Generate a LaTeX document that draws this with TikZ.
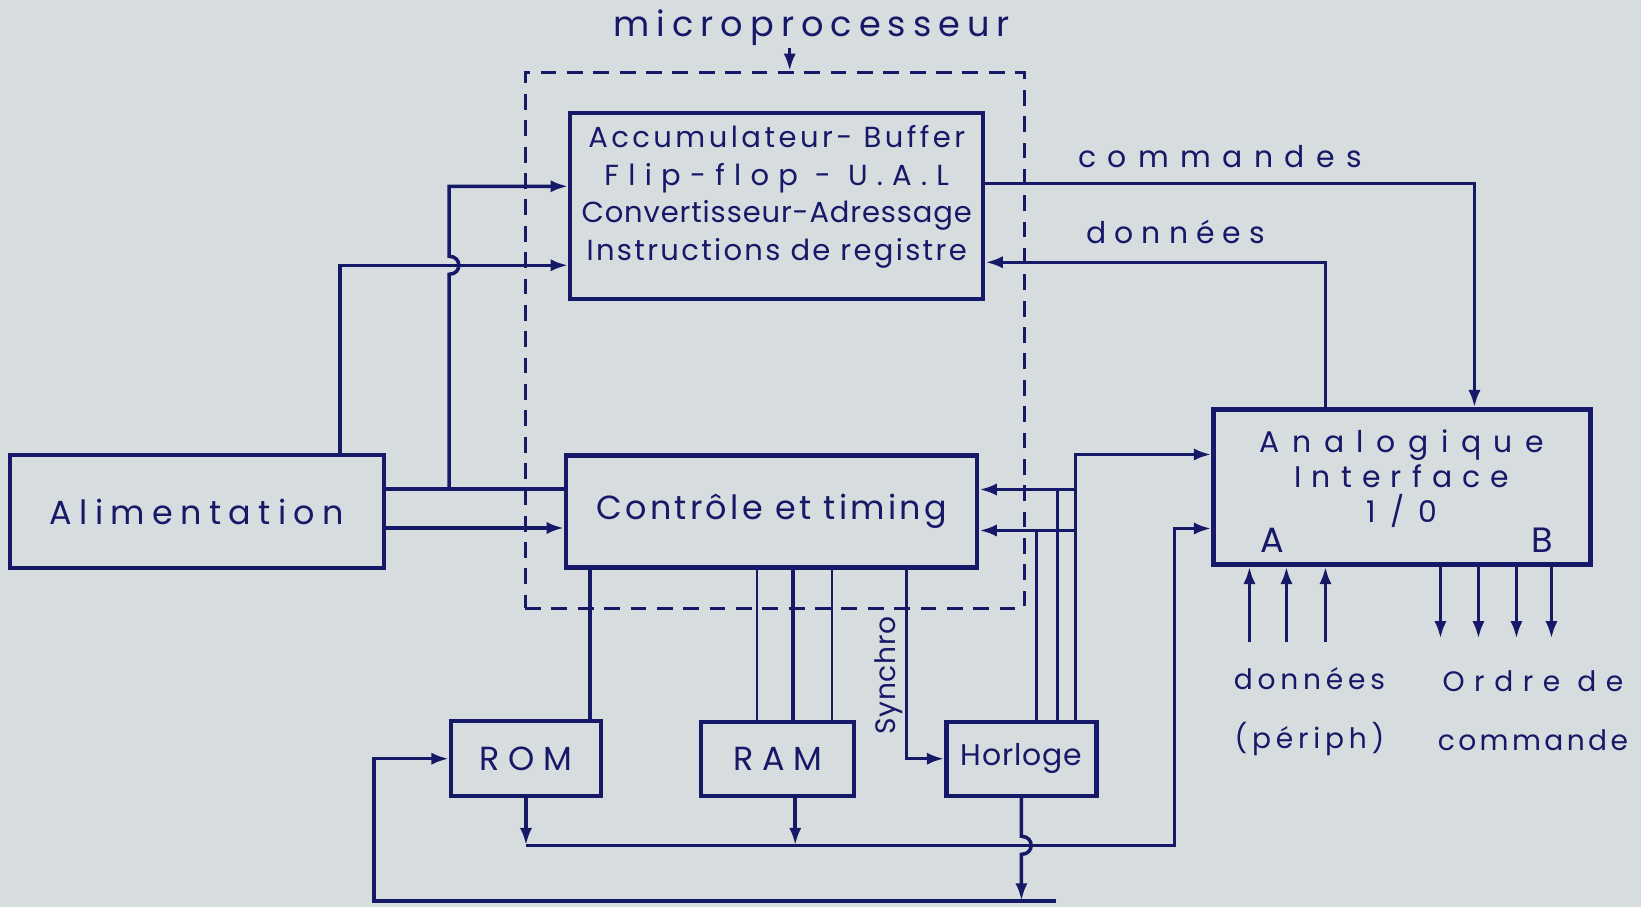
\documentclass[tikz,border=0pt]{standalone}
\usepackage{fontspec}
\setmainfont{Poppins}
\newfontfamily\hand{Poppins}
\usetikzlibrary{arrows.meta, positioning, fit, calc}

\definecolor{ink}{RGB}{22,24,104}
\definecolor{paper}{RGB}{215,220,222}

% taille, interligne, espacement des lettres
\newcommand\handsz[3]{\hand\fontsize{#1}{#2}\selectfont\addfontfeature{LetterSpace=#3}}

\begin{document}
\begin{tikzpicture}[
        node distance=1cm and 1cm,
        blk/.style={
            rectangle,
            draw=ink,
            line width=2.4pt,
            align=center,
            inner sep=2pt,
            text=ink
        },
        arr/.style={
            -{Latex[length=10pt,width=7pt]},
            draw=ink,
            line width=2pt
        },
        wire/.style={
            draw=ink,
            line width=2pt
        },
        lbl/.style={
            text=ink,
            inner sep=1pt
        },
        mpframe/.style={
            draw=ink,
            line width=1.8pt,
            dash pattern=on 9pt off 6pt
        }
    ]

    \fill[paper] (0,0) rectangle (32.82,-18.14);
    \useasboundingbox (0,0) rectangle (32.82,-18.14);

    % blocs
    \node[blk, minimum width=7.48cm, minimum height=2.26cm, font=\handsz{19}{19}{22}] (alim) at (3.94,-10.23) {Alimentation};

    \node[blk, right=3.56cm of alim, minimum width=8.22cm, minimum height=2.24cm, font=\handsz{19}{19}{10}] (ctrl) {Contrôle et timing};

    \node[blk, above=3.04cm of ctrl, xshift=0.1cm, minimum width=8.26cm, minimum height=3.72cm, font=\handsz{16.5}{21.3}{3}] (acc) {
        {\addfontfeature{LetterSpace=12}Accumulateur- Buffer}\\
        {\addfontfeature{LetterSpace=32}Flip-flop - U.A.L}\\
        Convertisseur-Adressage\\
        {\addfontfeature{LetterSpace=8}Instructions de registre}\\[-6pt]
        \mbox{}
    };

    \node[blk, below=3.0cm of ctrl, xshift=0.12cm, minimum width=3.06cm, minimum height=1.48cm, font=\handsz{19}{19}{26}] (ram) {RAM};
    \node[blk, left=1.92cm of ram, minimum width=3.0cm, minimum height=1.5cm, font=\handsz{19}{19}{26}] (rom) {ROM};
    \node[blk, right=1.76cm of ram, minimum width=3.0cm, minimum height=1.48cm, font=\handsz{17}{17}{3}] (hor) {Horloge};

    \node[blk, right=4.64cm of ctrl, yshift=0.49cm, minimum width=7.54cm, minimum height=3.10cm, font=\handsz{17}{20}{42}] (ana) {
        Analogique\\
        {\addfontfeature{LetterSpace=34}Interface}\\
        {\addfontfeature{LetterSpace=20}1 / 0}\\[-8pt]
        \mbox{}
    };
    \node[lbl, font=\handsz{20}{20}{0}] (pta) at ([shift={(1.22,0.52)}]ana.south west) {A};
    \node[lbl, font=\handsz{20}{20}{0}] (ptb) at ([shift={(-1.0,0.52)}]ana.south east) {B};

    % microprocesseur
    \node[mpframe, fit=(acc)(ctrl), inner xsep=0.78cm, inner ysep=0.77cm] (mp) {};
    \node[lbl, font=\handsz{20}{20}{20}] (mplbl) at ([shift={(0.74,0.86)}]mp.north) {microprocesseur};
    \coordinate (mpA) at ([xshift=0.3cm]mp.north);
    \draw[arr] (mplbl.south -| mpA) -- (mpA);

    % alimentation
    \coordinate (aT) at ([yshift=0.45cm]alim.east);
    \coordinate (aB) at ([yshift=-0.33cm]alim.east);
    \coordinate (j1) at ([xshift=1.26cm]aT);
    \coordinate (pA) at ([xshift=2.86cm]alim.north);
    \coordinate (accA) at ([yshift=0.40cm]acc.west);
    \coordinate (accB) at ([yshift=-1.18cm]acc.west);
    \coordinate (hx) at (j1 |- accB);

    \draw[wire] (aT) -- (aT -| ctrl.west);
    \draw[arr] (aB) -- (aB -| ctrl.west);
    \draw[arr] (pA) |- (accB);
    \draw[arr] (j1) -- ([yshift=-0.18cm]hx) .. controls ([shift={(0.26,-0.18)}]hx) and ([shift={(0.26,0.18)}]hx) .. ([yshift=0.18cm]hx) |- (accA);

    % commandes / données
    \coordinate (accC) at ([yshift=0.46cm]acc.east);
    \coordinate (anaC) at ([xshift=1.45cm]ana.north);
    \coordinate (anaD) at ([xshift=-1.53cm]ana.north);
    \coordinate (accD) at ([yshift=-1.12cm]acc.east);
    \draw[arr] (accC) -| node[lbl, pos=0.24, above=0.24cm, font=\handsz{17}{17}{38}] {commandes} (anaC);
    \draw[arr] (anaD) |- node[lbl, pos=0.72, above=0.3cm, font=\handsz{17}{17}{27}] {données} (accD);

    % horloge
    \coordinate (hA) at ([xshift=0.30cm]hor.north);
    \coordinate (hB) at ([xshift=0.72cm]hor.north);
    \coordinate (hC) at ([xshift=1.08cm]hor.north);
    \coordinate (cA) at ([yshift=0.44cm]ctrl.east);
    \coordinate (cB) at ([yshift=-0.38cm]ctrl.east);
    \coordinate (anaA) at ([yshift=0.65cm]ana.west);
    \draw[arr] (hC |- cA) -- (cA);
    \draw[wire] (hB) -- (hB |- cA);
    \draw[arr] (hC |- cB) -- (cB);
    \draw[wire] (hA) -- (hA |- cB);
    \draw[arr] (hC) |- (anaA);

    \coordinate (sy) at ([xshift=-0.76cm]hor.west);
    \draw[arr] (sy |- ctrl.south) -- node[lbl, pos=0.56, rotate=90, anchor=south, font=\handsz{16}{16}{3}] {Synchro} (sy) -- (hor.west);

    % memoires
    \coordinate (rT) at ([xshift=1.28cm]rom.north);
    \draw[wire] (rT |- ctrl.south) -- (rT);
    \foreach \dx/\lw [count=\i] in {-0.41/1.1, 0.31/2.4, 1.09/1.1} {
        \coordinate (m\i) at ([xshift=\dx cm]ram.north);
        \draw[draw=ink, line width=\lw pt] (m\i |- ctrl.south) -- (m\i);
    }

    \coordinate (busL) at ([yshift=-0.94cm]rom.south);
    \coordinate (rmB) at ([xshift=0.35cm]ram.south);
    \coordinate (anaB) at ([yshift=-0.83cm]ana.west);
    \coordinate (aK) at ([xshift=-0.74cm]anaB);
    \draw[arr] (rom.south) -- (busL);
    \draw[arr] (rmB) -- (rmB |- busL);
    \draw[arr] (busL) -| (aK) -- (anaB);

    \coordinate (hx2) at (hor.south |- busL);
    \coordinate (bot) at ([yshift=-2.06cm]hor.south);
    \coordinate (rL) at ([xshift=-1.5cm]rom.west);
    \draw[arr] (hor.south) -- ([yshift=0.18cm]hx2) .. controls ([shift={(0.26,0.18)}]hx2) and ([shift={(0.26,-0.18)}]hx2) .. ([yshift=-0.18cm]hx2) -- (bot);
    \draw[arr] ([xshift=0.7cm]bot) -| (rL) -- (rom.west);

    % interface A / B
    \foreach \dx [count=\i] in {-3.05,-2.31,-1.53} {
        \coordinate (pin\i) at ([xshift=\dx cm]ana.south);
        \draw[arr] ([yshift=-1.5cm]pin\i) -- (pin\i);
    }
    \foreach \dx [count=\i] in {0.77,1.53,2.29,2.99} {
        \coordinate (pout\i) at ([xshift=\dx cm]ana.south);
        \draw[arr] (pout\i) -- ([yshift=-1.44cm]pout\i);
    }
    \node[lbl, align=center, font=\handsz{16}{34}{17}] (perlbl) at ([shift={(-1.85,-2.9)}]ana.south) {données\\(périph)};
    \node[lbl, align=center, font=\handsz{16}{34}{34}] (ordlbl) at ([shift={(2.62,-2.88)}]ana.south) {Ordre de\\{\addfontfeature{LetterSpace=12}commande}};

\end{tikzpicture}
\end{document}
